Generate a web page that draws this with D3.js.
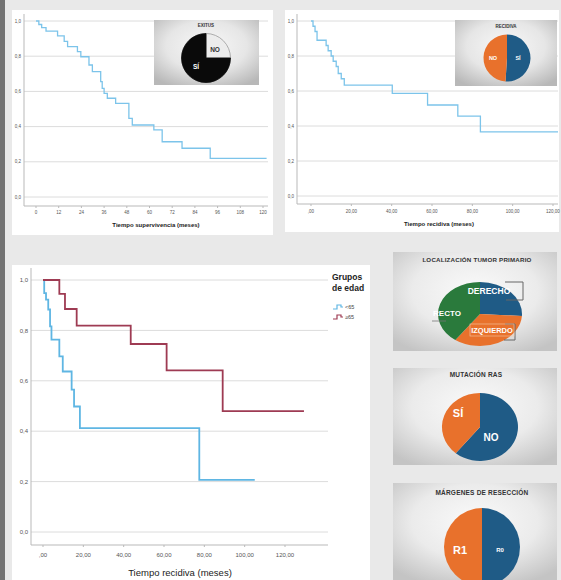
<!DOCTYPE html>
<html>
<head>
<meta charset="utf-8">
<script src="https://cdn.jsdelivr.net/npm/d3@7/dist/d3.min.js"></script>
<style>
  html, body { margin: 0; padding: 0; background: #e9e9e9; }
  svg { display: block; font-family: "Liberation Sans", Arial, sans-serif; }
</style>
</head>
<body>
<svg id="chart" width="561" height="580"></svg>
<script>
// ---- Kaplan-Meier step data (time in months, cumulative probability) ----
const survTime = [0, 1.5, 3, 5.3, 11.4, 14.9, 16.7, 21.9, 23.7, 28, 29.8, 34.2, 35, 36, 37.7, 42.1, 49.1, 50.9, 62.3, 66.7, 77.2, 92.1, 121.9];
const survProb = [1, 0.98, 0.962, 0.943, 0.915, 0.884, 0.854, 0.826, 0.797, 0.75, 0.712, 0.655, 0.617, 0.589, 0.561, 0.532, 0.447, 0.409, 0.381, 0.314, 0.277, 0.22, 0.22];

const recTime = [0, 1, 2, 3, 7.5, 8.5, 10, 11, 12.5, 13.5, 15, 16.5, 40.3, 57.8, 72.8, 84, 122.5];
const recProb = [1, 0.97, 0.94, 0.89, 0.86, 0.83, 0.80, 0.77, 0.74, 0.70, 0.67, 0.634, 0.587, 0.52, 0.457, 0.367, 0.367];

// age groups for the recurrence curve
const youngTime = [0, 0.6, 1.5, 2.6, 3.5, 4.2, 8.1, 9.8, 14.2, 15.4, 18.3, 77.5, 105];
const youngProb = [1, 0.948, 0.922, 0.883, 0.816, 0.763, 0.697, 0.637, 0.565, 0.498, 0.412, 0.207, 0.207];
const olderTime = [0, 8.1, 10.9, 16.7, 43.5, 61.3, 89.1, 129.4];
const olderProb = [1, 0.945, 0.885, 0.819, 0.746, 0.641, 0.48, 0.48];
const ageGroups = ["<65", "≥65"];

// ---- axis ticks ----
const probTicks = [0, 0.2, 0.4, 0.6, 0.8, 1.0];
const survTicks = [0, 12, 24, 36, 48, 60, 72, 84, 96, 108, 120];
const survTickLabels = ["0", "12", "24", "36", "48", "60", "72", "84", "96", "108", "120"];
const recTicks = [0, 20, 40, 60, 80, 100, 120];
const recTickLabels = [",00", "20,00", "40,00", "60,00", "80,00", "100,00", "120,00"];

// ---- pie data (percent of patients) ----
const exitusLabels = ["NO", "SÍ"];
const exitusValues = [25, 75];
const recidivaLabels = ["SÍ", "NO"];
const recidivaValues = [51, 49];
const locLabels = ["DERECHO", "IZQUIERDO", "RECTO"];
const locValues = [26, 34, 40];
const rasLabels = ["NO", "SÍ"];
const rasValues = [61, 39];
const margenLabels = ["R0", "R1"];
const margenValues = [50, 50];

const BLUE = "#1f5b86", ORANGE = "#e8712c", GREEN = "#2a7a3c";

const svg = d3.select("#chart");
const defs = svg.append("defs");

function radial(id, c0, c1, c2) {
  const g = defs.append("radialGradient").attr("id", id)
    .attr("cx", "50%").attr("cy", "40%").attr("r", "70%");
  g.append("stop").attr("offset", "0%").attr("stop-color", c0);
  g.append("stop").attr("offset", "55%").attr("stop-color", c1);
  g.append("stop").attr("offset", "100%").attr("stop-color", c2);
}
radial("boxGrad", "#f8f8f8", "#e6e6e6", "#b8b8b8");
radial("boxGradLight", "#fafafa", "#ebebeb", "#c4c4c4");

// page background and the dark strip on the left
svg.append("rect").attr("width", 561).attr("height", 580).attr("fill", "#e9e9e9");
svg.append("rect").attr("x", 0).attr("y", 0).attr("width", 5).attr("height", 580).attr("fill", "#737373");

function zip(t, p) { return t.map((d, i) => ({ t: d, p: p[i] })); }

// Draws one survival panel: gridlines, axes, labels, and the step curves
function kmPanel(cfg) {
  const g = svg.append("g");
  g.append("rect").attr("x", cfg.box[0]).attr("y", cfg.box[1])
    .attr("width", cfg.box[2]).attr("height", cfg.box[3]).attr("fill", "#fff");

  const x = d3.scaleLinear().domain([0, 120]).range(cfg.xr);
  const y = d3.scaleLinear().domain([0, 1]).range(cfg.yr);

  g.selectAll(".grid").data(probTicks).join("line")
    .attr("x1", cfg.axisX).attr("x2", cfg.gridEnd)
    .attr("y1", d => y(d)).attr("y2", d => y(d))
    .attr("stroke", "#dcdcdc").attr("stroke-width", 1);

  // axis lines
  g.append("line").attr("x1", cfg.axisX).attr("x2", cfg.axisX)
    .attr("y1", cfg.axisTop).attr("y2", cfg.axisY).attr("stroke", "#b9b9b9");
  g.append("line").attr("x1", cfg.axisX).attr("x2", cfg.gridEnd)
    .attr("y1", cfg.axisY).attr("y2", cfg.axisY).attr("stroke", "#b9b9b9");

  g.selectAll(".yl").data(probTicks).join("text")
    .attr("x", cfg.axisX - 3).attr("y", d => y(d)).attr("dy", "0.35em")
    .attr("text-anchor", "end").attr("font-size", cfg.tickSize).attr("fill", "#555")
    .text(d => d3.format(".1f")(d).replace(".", ","));

  g.selectAll(".xt").data(cfg.ticks).join("line")
    .attr("x1", d => x(d)).attr("x2", d => x(d))
    .attr("y1", cfg.axisY).attr("y2", cfg.axisY + 2).attr("stroke", "#b9b9b9");
  g.selectAll(".xl").data(cfg.ticks).join("text")
    .attr("x", d => x(d)).attr("y", cfg.tickY).attr("dy", "0.35em")
    .attr("text-anchor", "middle").attr("font-size", cfg.tickSize).attr("fill", "#555")
    .text((d, i) => cfg.tickLabels[i]);

  g.append("text").attr("x", cfg.labelX).attr("y", cfg.labelY).attr("dy", "0.35em")
    .attr("text-anchor", "middle").attr("font-size", cfg.labelSize)
    .attr("font-weight", cfg.labelWeight).attr("fill", "#222").text(cfg.label);

  const line = d3.line().curve(d3.curveStepAfter).x(d => x(d.t)).y(d => y(d.p));
  cfg.series.forEach(s => {
    g.append("path").datum(s.data).attr("d", line).attr("fill", "none")
      .attr("stroke", s.color).attr("stroke-width", s.width);
  });
  return { g, x, y };
}

kmPanel({
  box: [12, 10, 261, 225], xr: [36, 263], yr: [197, 21],
  axisX: 24, axisTop: 14, axisY: 206, gridEnd: 268,
  ticks: survTicks, tickLabels: survTickLabels, tickY: 212, tickSize: 4.5,
  label: "Tiempo supervivencia (meses)", labelX: 156, labelY: 225, labelSize: 6, labelWeight: "bold",
  series: [{ data: zip(survTime, survProb), color: "#7cc4ea", width: 1.3 }]
});

kmPanel({
  box: [285, 10, 274, 222], xr: [311, 553], yr: [196, 21],
  axisX: 297, axisTop: 14, axisY: 204, gridEnd: 558,
  ticks: recTicks, tickLabels: recTickLabels, tickY: 211, tickSize: 4.5,
  label: "Tiempo recidiva (meses)", labelX: 439, labelY: 224, labelSize: 6, labelWeight: "bold",
  series: [{ data: zip(recTime, recProb), color: "#7cc4ea", width: 1.3 }]
});

const big = kmPanel({
  box: [12, 265, 358, 315], xr: [43, 285], yr: [532, 280],
  axisX: 31, axisTop: 268, axisY: 545, gridEnd: 328,
  ticks: recTicks, tickLabels: recTickLabels, tickY: 555, tickSize: 6,
  label: "Tiempo recidiva (meses)", labelX: 180, labelY: 573, labelSize: 9.5, labelWeight: "normal",
  series: [
    { data: zip(youngTime, youngProb), color: "#5fb6e3", width: 1.8 },
    { data: zip(olderTime, olderProb), color: "#9e3b53", width: 1.8 }
  ]
});

// legend for the age groups
const lg = svg.append("g");
lg.append("text").attr("x", 332).attr("y", 277).attr("dy", "0.35em")
  .attr("font-size", 8.5).attr("font-weight", "bold").attr("fill", "#222").text("Grupos");
lg.append("text").attr("x", 332).attr("y", 288).attr("dy", "0.35em")
  .attr("font-size", 8.5).attr("font-weight", "bold").attr("fill", "#222").text("de edad");
const legColors = ["#5fb6e3", "#9e3b53"];
ageGroups.forEach((name, i) => {
  const yy = 307 + i * 10;
  lg.append("path")
    .attr("d", `M333,${yy + 2} H337 V${yy - 2} H341 V${yy} H343`)
    .attr("fill", "none").attr("stroke", legColors[i]).attr("stroke-width", 1.2);
  lg.append("text").attr("x", 345).attr("y", yy).attr("dy", "0.35em")
    .attr("font-size", 5.5).attr("fill", "#444").text(name);
});

// ---- pie panels ----
function piePanel(cfg) {
  const g = svg.append("g");
  g.append("rect").attr("x", cfg.box[0]).attr("y", cfg.box[1])
    .attr("width", cfg.box[2]).attr("height", cfg.box[3]).attr("fill", `url(#${cfg.grad})`);
  g.append("text").attr("x", cfg.titleX).attr("y", cfg.titleY).attr("dy", "0.35em")
    .attr("text-anchor", "middle").attr("font-size", cfg.titleSize).attr("font-weight", "bold")
    .attr("letter-spacing", cfg.titleSpacing || 0).attr("fill", "#333").text(cfg.title);

  const pie = d3.pie().sort(null).value(d => d.v);
  const arcs = pie(cfg.labels.map((l, i) => ({ l, v: cfg.values[i] })));
  const arc = d3.arc().innerRadius(0).outerRadius(cfg.rx);
  const pg = g.append("g")
    .attr("transform", `translate(${cfg.cx},${cfg.cy}) scale(1,${cfg.ry / cfg.rx})`);
  pg.selectAll("path").data(arcs).join("path")
    .attr("d", arc).attr("fill", (d, i) => cfg.colors[i])
    .attr("stroke", (d, i) => cfg.strokes ? cfg.strokes[i] : "none")
    .attr("stroke-width", 0.8);

  if (cfg.extra) cfg.extra(g);

  cfg.labels.forEach((l, i) => {
    const p = cfg.labelPos[i];
    g.append("text").attr("x", p[0]).attr("y", p[1]).attr("dy", "0.35em")
      .attr("text-anchor", "middle").attr("font-size", p[2]).attr("font-weight", "bold")
      .attr("fill", cfg.labelColors[i]).text(l);
  });
}

piePanel({
  box: [154, 20, 105, 65], grad: "boxGrad",
  title: "EXITUS", titleX: 206, titleY: 25, titleSize: 4.5,
  labels: exitusLabels, values: exitusValues,
  colors: ["#ececec", "#0a0a0a"], strokes: ["#9a9a9a", "#0a0a0a"],
  cx: 206, cy: 58, rx: 24.5, ry: 24.5,
  labelPos: [[215, 50, 6.5], [196, 67, 6.5]], labelColors: ["#333", "#fff"]
});

piePanel({
  box: [455, 20, 102, 66], grad: "boxGrad",
  title: "RECIDIVA", titleX: 506, titleY: 26, titleSize: 4.5,
  labels: recidivaLabels, values: recidivaValues,
  colors: [BLUE, ORANGE],
  cx: 507, cy: 58, rx: 23.5, ry: 23.5,
  labelPos: [[518, 58, 5.5], [493, 58, 5.5]], labelColors: ["#fff", "#fff"]
});

piePanel({
  box: [393, 252, 164, 99], grad: "boxGradLight",
  title: "LOCALIZACIÓN TUMOR PRIMARIO", titleX: 477, titleY: 260, titleSize: 6.2, titleSpacing: 0.2,
  labels: locLabels, values: locValues,
  colors: [BLUE, ORANGE, GREEN],
  cx: 480, cy: 314, rx: 42, ry: 32,
  extra: g => {
    g.append("path").attr("d", "M505,282 H523 V300 H506")
      .attr("fill", "none").attr("stroke", "#666").attr("stroke-width", 1);
    g.append("path").attr("d", "M505,324 H515 V340 H504")
      .attr("fill", "none").attr("stroke", "#666").attr("stroke-width", 1);
    g.append("rect").attr("x", 470).attr("y", 324).attr("width", 44).attr("height", 12)
      .attr("fill", "none").attr("stroke", "#f3c9a8").attr("stroke-width", 0.6);
    g.append("path").attr("d", "M432,321 H446")
      .attr("fill", "none").attr("stroke", "#777").attr("stroke-width", 0.8);
  },
  labelPos: [[489, 291, 8.5], [492, 330, 7.5], [447, 313, 8]], labelColors: ["#fff", "#fff", "#fff"]
});

piePanel({
  box: [393, 368, 164, 97], grad: "boxGradLight",
  title: "MUTACIÓN RAS", titleX: 476, titleY: 375, titleSize: 6.5, titleSpacing: 0.2,
  labels: rasLabels, values: rasValues,
  colors: [BLUE, ORANGE],
  cx: 480, cy: 427, rx: 38, ry: 34,
  labelPos: [[491, 437, 10], [458, 413, 11]], labelColors: ["#fff", "#fff"]
});

piePanel({
  box: [393, 483, 164, 97], grad: "boxGradLight",
  title: "MÁRGENES DE RESECCIÓN", titleX: 482, titleY: 493, titleSize: 6.5, titleSpacing: 0.2,
  labels: margenLabels, values: margenValues,
  colors: [BLUE, ORANGE],
  cx: 482, cy: 547, rx: 38, ry: 39,
  labelPos: [[500, 550, 6], [460, 550, 11]], labelColors: ["#fff", "#fff"]
});
</script>
</body>
</html>
